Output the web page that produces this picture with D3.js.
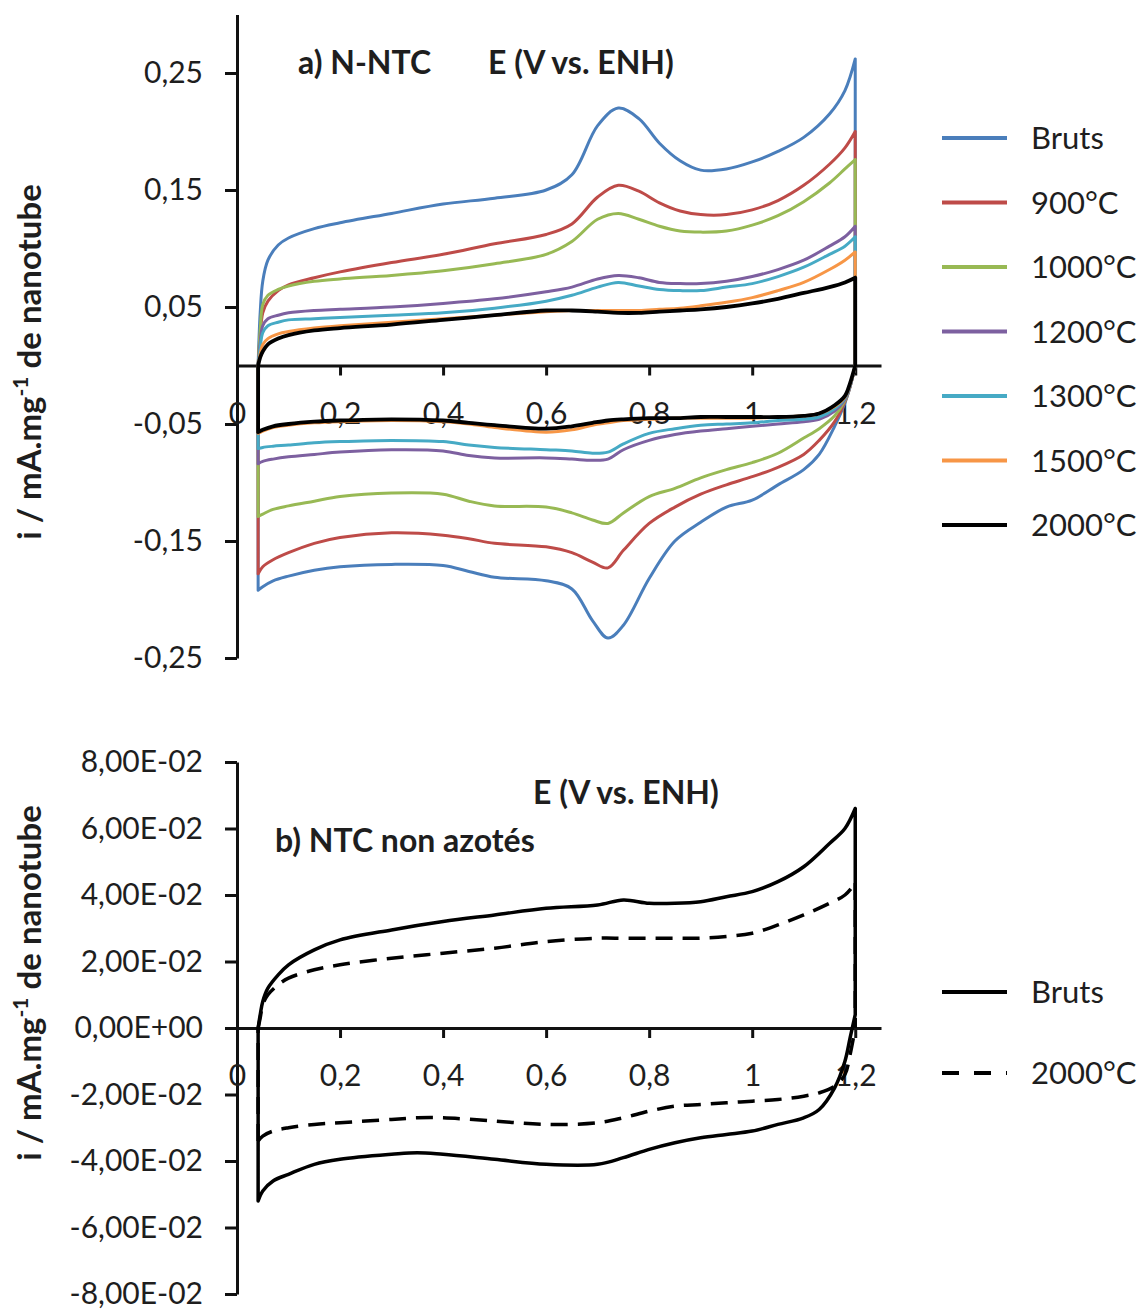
<!DOCTYPE html>
<html><head><meta charset="utf-8">
<script src="https://cdn.jsdelivr.net/npm/d3@7"></script>
<style>
body{margin:0;background:#fff;}
svg{display:block;}
text{font-family:Lato,'Open Sans',sans-serif;fill:#1e1e1e;}
</style>
</head><body>
<svg id="c" width="1142" height="1312"></svg>
<script>
// ---------- Panel a) N-NTC ----------
const seriesA = ["Bruts","900°C","1000°C","1200°C","1300°C","1500°C","2000°C"];
const colorsA = ["#4a7ebb","#be4b48","#98b954","#7d60a0","#46aac5","#f79646","#000000"];
const xUpA  = [0.041,0.045,0.05,0.06,0.08,0.1,0.15,0.2,0.3,0.4,0.5,0.6,0.65,0.7,0.74,0.78,0.82,0.86,0.9,0.95,1.0,1.05,1.1,1.15,1.18,1.2];
const xLowA = [0.041,0.05,0.07,0.1,0.15,0.2,0.3,0.4,0.45,0.5,0.6,0.65,0.69,0.72,0.75,0.8,0.85,0.9,0.95,1.0,1.05,1.1,1.13,1.16,1.18,1.19,1.2];

const upBruts = [0.0,0.045,0.072,0.090,0.103,0.109,0.117,0.122,0.130,0.138,0.143,0.150,0.163,0.205,0.220,0.211,0.190,0.175,0.167,0.168,0.174,0.183,0.195,0.215,0.235,0.262];
const up900   = [0.0,0.025,0.045,0.055,0.064,0.069,0.075,0.080,0.088,0.095,0.104,0.112,0.121,0.144,0.154,0.149,0.139,0.132,0.129,0.129,0.133,0.141,0.154,0.172,0.186,0.200];
const up1000  = [0.0,0.030,0.052,0.060,0.065,0.068,0.072,0.074,0.077,0.081,0.087,0.095,0.106,0.125,0.130,0.125,0.119,0.115,0.114,0.115,0.120,0.128,0.140,0.156,0.168,0.176];
const up1200  = [0.0,0.020,0.034,0.040,0.043,0.045,0.047,0.048,0.050,0.053,0.057,0.063,0.067,0.074,0.077,0.075,0.071,0.070,0.070,0.072,0.076,0.082,0.090,0.102,0.110,0.119];
const up1300  = [0.0,0.015,0.028,0.034,0.037,0.039,0.040,0.041,0.043,0.045,0.049,0.055,0.060,0.067,0.071,0.068,0.065,0.064,0.064,0.067,0.070,0.076,0.084,0.095,0.102,0.110];
const up1500  = [0.0,0.010,0.018,0.023,0.027,0.029,0.032,0.034,0.037,0.040,0.043,0.046,0.047,0.047,0.047,0.047,0.048,0.049,0.051,0.054,0.058,0.064,0.071,0.082,0.090,0.097];
const up2000  = [0.0,0.007,0.012,0.018,0.023,0.026,0.030,0.032,0.035,0.039,0.043,0.047,0.047,0.046,0.045,0.045,0.046,0.047,0.048,0.050,0.053,0.057,0.062,0.067,0.071,0.075];

const lowBruts = [-0.192,-0.189,-0.184,-0.180,-0.175,-0.172,-0.170,-0.171,-0.176,-0.181,-0.184,-0.191,-0.218,-0.233,-0.222,-0.182,-0.150,-0.134,-0.121,-0.115,-0.102,-0.089,-0.076,-0.052,-0.032,-0.018,0.0];
const low900   = [-0.178,-0.172,-0.166,-0.160,-0.152,-0.147,-0.143,-0.145,-0.148,-0.152,-0.155,-0.160,-0.168,-0.173,-0.158,-0.135,-0.121,-0.110,-0.102,-0.095,-0.087,-0.076,-0.064,-0.048,-0.031,-0.018,0.0];
const low1000  = [-0.129,-0.127,-0.123,-0.120,-0.116,-0.112,-0.109,-0.110,-0.116,-0.120,-0.121,-0.126,-0.132,-0.135,-0.126,-0.112,-0.105,-0.096,-0.089,-0.083,-0.075,-0.062,-0.054,-0.043,-0.030,-0.018,0.0];
const low1200  = [-0.084,-0.082,-0.080,-0.078,-0.076,-0.074,-0.072,-0.073,-0.077,-0.079,-0.079,-0.080,-0.081,-0.080,-0.072,-0.064,-0.059,-0.056,-0.054,-0.052,-0.050,-0.048,-0.046,-0.039,-0.029,-0.018,0.0];
const low1300  = [-0.071,-0.070,-0.069,-0.068,-0.066,-0.065,-0.064,-0.065,-0.068,-0.070,-0.072,-0.073,-0.075,-0.074,-0.067,-0.058,-0.054,-0.051,-0.050,-0.049,-0.047,-0.046,-0.044,-0.037,-0.028,-0.017,0.0];
const low1500  = [-0.058,-0.056,-0.053,-0.051,-0.049,-0.048,-0.047,-0.048,-0.050,-0.053,-0.057,-0.055,-0.051,-0.049,-0.047,-0.046,-0.045,-0.045,-0.045,-0.045,-0.044,-0.043,-0.041,-0.035,-0.027,-0.016,0.0];
const low2000  = [-0.057,-0.055,-0.052,-0.050,-0.048,-0.047,-0.046,-0.047,-0.049,-0.051,-0.054,-0.052,-0.049,-0.047,-0.046,-0.045,-0.045,-0.044,-0.044,-0.044,-0.044,-0.043,-0.041,-0.034,-0.026,-0.015,0.0];

const upperA = [upBruts,up900,up1000,up1200,up1300,up1500,up2000];
const lowerA = [lowBruts,low900,low1000,low1200,low1300,low1500,low2000];

const yTicksA = [0.25,0.15,0.05,-0.05,-0.15,-0.25];
const yLabelsA = ["0,25","0,15","0,05","-0,05","-0,15","-0,25"];
const xTicks = [0,0.2,0.4,0.6,0.8,1,1.2];
const xLabels = ["0","0,2","0,4","0,6","0,8","1","1,2"];

// ---------- Panel b) NTC non azotés ----------
const seriesB = ["Bruts","2000°C"];
const dashB = [null,"17,10"];
const xUpB  = [0.041,0.045,0.05,0.06,0.08,0.1,0.15,0.2,0.3,0.4,0.5,0.6,0.7,0.75,0.8,0.85,0.9,0.95,1.0,1.05,1.1,1.15,1.18,1.2];
const xLowB = [0.041,0.05,0.07,0.1,0.15,0.2,0.3,0.35,0.4,0.5,0.6,0.7,0.75,0.8,0.85,0.9,0.95,1.0,1.05,1.1,1.13,1.16,1.18,1.19,1.2];
const upBrutsB = [0.0,0.004,0.008,0.012,0.016,0.019,0.0235,0.0265,0.0295,0.032,0.034,0.036,0.037,0.0385,0.0375,0.0375,0.038,0.0395,0.041,0.044,0.0485,0.0555,0.060,0.066];
const up2000B  = [0.0,0.003,0.007,0.010,0.013,0.015,0.0175,0.019,0.021,0.0225,0.024,0.026,0.027,0.027,0.027,0.027,0.027,0.0275,0.0285,0.031,0.034,0.0375,0.040,0.0436];
const lowBrutsB = [-0.052,-0.049,-0.046,-0.044,-0.041,-0.0395,-0.038,-0.0375,-0.038,-0.0395,-0.041,-0.041,-0.039,-0.0365,-0.0345,-0.033,-0.032,-0.031,-0.029,-0.027,-0.0245,-0.018,-0.010,-0.003,0.004];
const low2000B  = [-0.034,-0.0325,-0.031,-0.030,-0.029,-0.0285,-0.0275,-0.027,-0.027,-0.028,-0.029,-0.0285,-0.027,-0.025,-0.0235,-0.023,-0.0225,-0.022,-0.0215,-0.0205,-0.0195,-0.0175,-0.014,-0.008,0.0];
const upperB = [upBrutsB, up2000B];
const lowerB = [lowBrutsB, low2000B];
const yTicksB = [0.08,0.06,0.04,0.02,0,-0.02,-0.04,-0.06,-0.08];
const yLabelsB = ["8,00E-02","6,00E-02","4,00E-02","2,00E-02","0,00E+00","-2,00E-02","-4,00E-02","-6,00E-02","-8,00E-02"];

// ---------- Drawing ----------
const svg = d3.select("#c");

function drawPanel(opt){
  const x = d3.scaleLinear().domain([0,1.25]).range([237,881]);
  const y = d3.scaleLinear().domain(opt.yDomain).range(opt.yRange);
  const g = svg.append("g");

  const ya = d3.axisLeft(y).tickValues(opt.yTicks).tickSize(12).tickSizeOuter(0).tickPadding(22)
     .tickFormat((d,i)=>opt.yLabels[i]);
  const yg = g.append("g").attr("transform","translate(237,0)").call(ya);
  const xa = d3.axisBottom(x).tickValues(xTicks).tickSize(10).tickSizeOuter(0).tickPadding(27)
     .tickFormat((d,i)=>xLabels[i]);
  const xg = g.append("g").attr("transform",`translate(0,${y(0)})`).call(xa);
  [yg,xg].forEach(a=>{
    a.select(".domain").attr("stroke","#111").attr("stroke-width",3);
    a.selectAll(".tick line").attr("stroke","#111").attr("stroke-width",3);
    a.selectAll(".tick text").attr("font-size",opt.tickFs).attr("font-family","Lato").attr("fill","#1e1e1e");
  });

  const lineGen = d3.line().x(d=>x(d[0])).y(d=>y(d[1])).curve(d3.curveCatmullRom.alpha(0.5));
  const conn = d3.line().x(d=>x(d[0])).y(d=>y(d[1]));
  opt.upper.forEach((up,i)=>{
    const low = opt.lower[i];
    const upPts = opt.xUp.map((xv,j)=>[xv,up[j]]);
    const lowPts = opt.xLow.map((xv,j)=>[xv,low[j]]);
    const n = upPts.length, m = lowPts.length;
    const d = lineGen(upPts) + conn([upPts[n-1],lowPts[m-1]]) + lineGen(lowPts) + conn([lowPts[0],upPts[0]]);
    g.append("path").attr("d",d).attr("fill","none")
      .attr("stroke",opt.colors[i]).attr("stroke-width",opt.widths[i])
      .attr("stroke-linejoin","round").attr("stroke-linecap",opt.dash[i]?"butt":"round")
      .attr("stroke-dasharray",opt.dash[i]);
  });

  opt.texts.forEach(t=>{
    g.append("text").attr("x",t.x).attr("y",t.y).attr("font-size",t.fs).attr("font-weight","bold").text(t.s);
  });

  const yt = g.append("text").attr("transform",`translate(41,${opt.yTitleY}) rotate(-90)`)
     .attr("text-anchor","middle").attr("font-size",33).attr("font-weight","bold");
  yt.append("tspan").text("i / mA.mg");
  yt.append("tspan").attr("font-size",21).attr("dy",-13).text("-1");
  yt.append("tspan").attr("dy",13).text(" de nanotube");

  opt.series.forEach((s,i)=>{
    const ly = opt.legY0 + i*opt.legStep;
    g.append("line").attr("x1",942).attr("x2",1007).attr("y1",ly).attr("y2",ly)
      .attr("stroke",opt.colors[i]).attr("stroke-width",4)
      .attr("stroke-dasharray",opt.dash[i] ? "17,15" : null);
    g.append("text").attr("x",1031).attr("y",ly).attr("dy","0.36em").attr("font-size",31).text(s);
  });
}

drawPanel({
  yDomain:[-0.25,0.30], yRange:[658,14.5],
  yTicks:yTicksA, yLabels:yLabelsA, tickFs:30,
  xUp:xUpA, xLow:xLowA, upper:upperA, lower:lowerA,
  colors:colorsA, widths:[3,3,3,3,3,3,3.8], dash:colorsA.map(()=>null),
  series:seriesA, legY0:138, legStep:64.5, yTitleY:362,
  texts:[{x:298,y:74,fs:32,s:"a) N-NTC"},{x:488,y:74,fs:32,s:"E (V vs. ENH)"}]
});
drawPanel({
  yDomain:[-0.08,0.08], yRange:[1294,762],
  yTicks:yTicksB, yLabels:yLabelsB, tickFs:30,
  xUp:xUpB, xLow:xLowB, upper:upperB, lower:lowerB,
  colors:["#000","#000"], widths:[3.5,3.5], dash:dashB,
  series:seriesB, legY0:992, legStep:81, yTitleY:983,
  texts:[{x:533,y:804,fs:32,s:"E (V vs. ENH)"},{x:275,y:852,fs:32,s:"b) NTC non azotés"}]
});
</script>
</body></html>
